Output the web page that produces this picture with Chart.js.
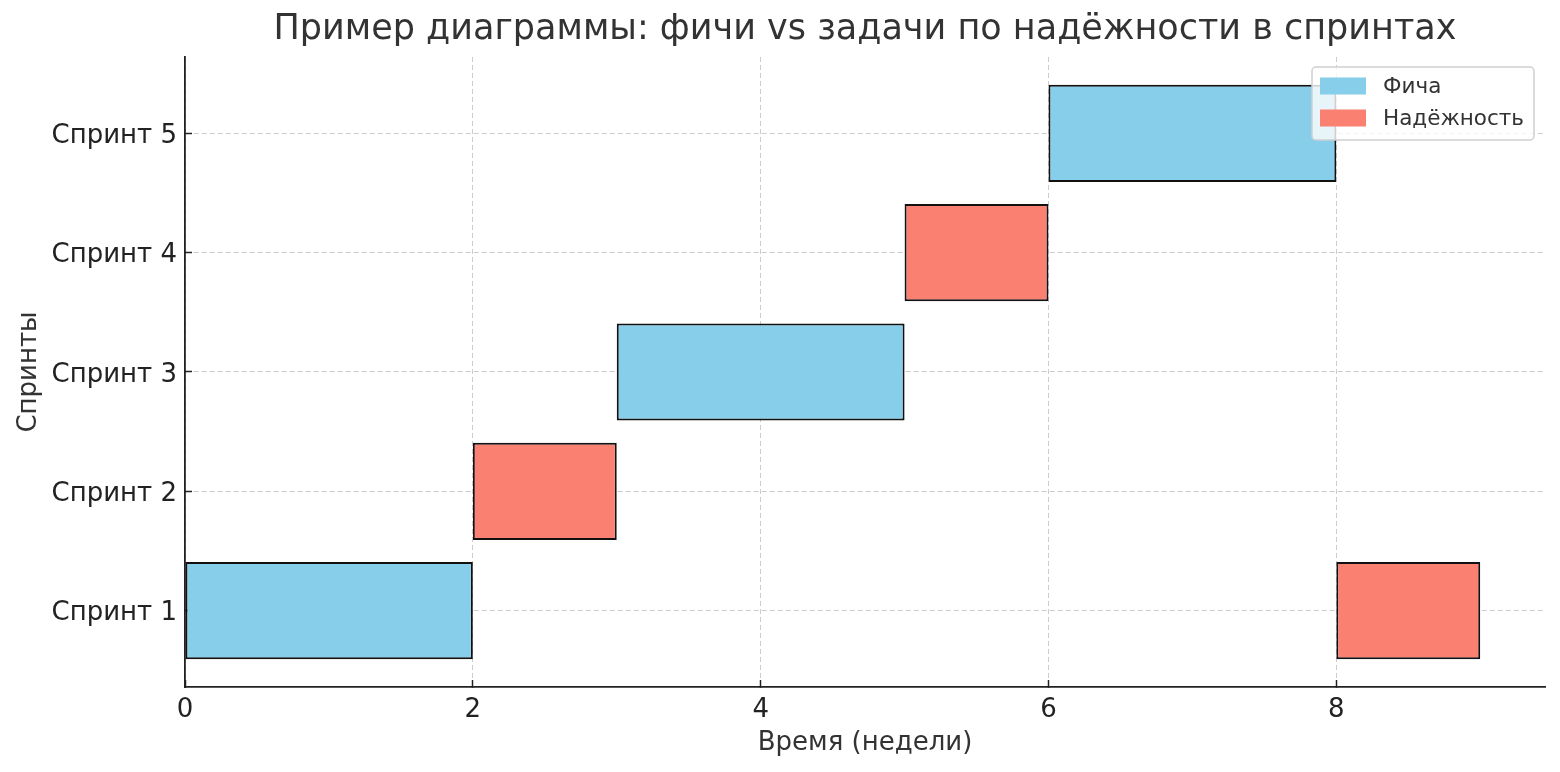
<!DOCTYPE html>
<html>
<head>
<meta charset="utf-8">
<script src="https://cdn.jsdelivr.net/npm/chart.js@4"></script>
<style>
html,body{margin:0;padding:0;background:#fff;}
#wrap{width:1560px;height:772px;position:relative;}
</style>
</head>
<body>
<div id="wrap"><canvas id="c" width="1560" height="772"></canvas></div>
<script>
const sprintNames = ['Спринт 1', 'Спринт 2', 'Спринт 3', 'Спринт 4', 'Спринт 5'];
const featureSprint = [1, 3, 5];
const featureStart = [0, 3, 6];
const featureEnd = [2, 5, 8];
const reliabilitySprint = [2, 4, 1];
const reliabilityStart = [2, 5, 8];
const reliabilityEnd = [3, 6, 9];
const xTicks = [0, 2, 4, 6, 8];
const seriesNames = ['Фича', 'Надёжность'];
const seriesColors = ['#87CEEB', '#FA8072'];
const titleText = 'Пример диаграммы: фичи vs задачи по надёжности в спринтах';
const xTitle = 'Время (недели)';
const yTitle = 'Спринты';

const FONT = "'DejaVu Sans', sans-serif";

function mk(spr, st, en) {
  return spr.map((s, i) => ({ y: s, x: [st[i], en[i]] }));
}

const legendPlugin = {
  id: 'boxLegend',
  afterDraw(chart) {
    const ctx = chart.ctx;
    const ds = chart.data.datasets;
    const x0 = 1312, y0 = 67, w = 222, h = 73;
    ctx.save();
    ctx.beginPath();
    const r = 4;
    ctx.moveTo(x0 + r, y0);
    ctx.arcTo(x0 + w, y0, x0 + w, y0 + h, r);
    ctx.arcTo(x0 + w, y0 + h, x0, y0 + h, r);
    ctx.arcTo(x0, y0 + h, x0, y0, r);
    ctx.arcTo(x0, y0, x0 + w, y0, r);
    ctx.closePath();
    ctx.fillStyle = 'rgba(255,255,255,0.8)';
    ctx.fill();
    ctx.strokeStyle = '#d0d0d0';
    ctx.lineWidth = 1.5;
    ctx.stroke();
    ctx.font = '21.5px ' + FONT;
    ctx.textBaseline = 'middle';
    ctx.textAlign = 'left';
    ds.forEach((d, i) => {
      const cy = y0 + 19 + i * 32;
      ctx.fillStyle = d.backgroundColor;
      ctx.fillRect(x0 + 8, cy - 8.5, 46, 17);
      ctx.fillStyle = '#333';
      ctx.fillText(d.label, x0 + 71, cy + 1);
    });
    ctx.restore();
  }
};

const gridOpts = { color: 'rgba(170,170,170,0.6)', lineWidth: 1, offset: false,
  drawTicks: true, tickLength: -7, tickColor: '#222', tickWidth: 1.5, tickBorderDash: [] };
const borderOpts = { display: true, color: '#222', width: 1.8, dash: [5, 3] };

new Chart(document.getElementById('c'), {
  type: 'bar',
  data: {
    datasets: [
      { label: seriesNames[0], data: mk(featureSprint, featureStart, featureEnd),
        backgroundColor: seriesColors[0], borderColor: '#111', borderWidth: 2, borderSkipped: false },
      { label: seriesNames[1], data: mk(reliabilitySprint, reliabilityStart, reliabilityEnd),
        backgroundColor: seriesColors[1], borderColor: '#111', borderWidth: 2, borderSkipped: false }
    ]
  },
  options: {
    responsive: false,
    animation: false,
    indexAxis: 'y',
    grouped: false,
    barPercentage: 0.815,
    categoryPercentage: 1,
    layout: { padding: { left: 0, right: 15, top: 0, bottom: 0 } },
    plugins: {
      legend: { display: false },
      tooltip: { enabled: false },
      title: {
        display: true, text: titleText, color: '#333', fullSize: false,
        font: { family: FONT, size: 35, weight: 'normal' },
        padding: { top: 9, bottom: 6 }
      }
    },
    scales: {
      x: {
        type: 'linear', min: 0, max: 9.45, z: 1,
        afterBuildTicks: (s) => { s.ticks = xTicks.map(v => ({ value: v })); },
        afterFit: (s) => { s.height = 85; },
        grid: gridOpts,
        border: borderOpts,
        ticks: { color: '#222', padding: 15, font: { family: FONT, size: 26 } },
        title: { display: true, text: xTitle, color: '#333', font: { family: FONT, size: 26 },
                 padding: { top: 0, bottom: 13 } }
      },
      y: {
        type: 'linear', min: 0.36, max: 5.64, z: 1, offset: false,
        afterBuildTicks: (s) => { s.ticks = sprintNames.map((n, i) => ({ value: i + 1 })); },
        afterFit: (s) => { s.width = 185; },
        grid: gridOpts,
        border: borderOpts,
        ticks: { color: '#222', padding: 15, labelOffset: 3, font: { family: FONT, size: 26 },
                 callback: (v) => sprintNames[v - 1] },
        title: { display: true, text: yTitle, color: '#333', font: { family: FONT, size: 26 },
                 padding: { top: 14, bottom: 0 } }
      }
    }
  },
  plugins: [legendPlugin]
});
</script>
</body>
</html>
